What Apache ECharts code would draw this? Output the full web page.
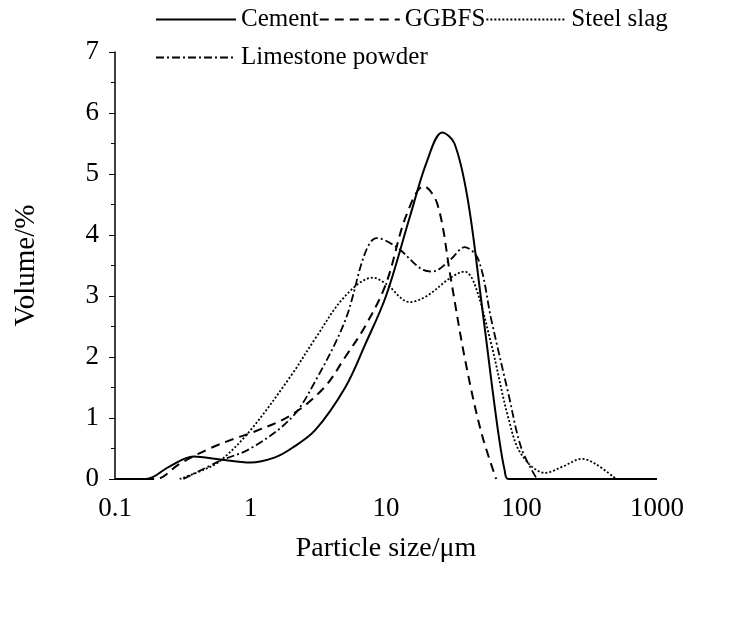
<!DOCTYPE html>
<html><head><meta charset="utf-8">
<script src="https://cdn.jsdelivr.net/npm/echarts@6/dist/echarts.min.js"></script>
<style>html,body{margin:0;background:#fff}#c{width:753px;height:641px}</style>
</head><body><div id="c"></div>
<script>
const cement = [[0.1,0],[0.17,0],[0.25,0.2],[0.38,0.37],[0.6,0.32],[1,0.27],[1.5,0.35],[2,0.5],[3,0.8],[5,1.5],[7,2.2],[10,3.0],[15,4.3],[20,5.2],[26,5.68],[32,5.5],[40,4.6],[50,3.0],[60,1.6],[68,0.7],[75,0.15],[80,0],[1000,0]];
const ggbfs = [[0.1,0],[0.2,0],[0.3,0.25],[0.5,0.5],[0.8,0.68],[1,0.75],[2,1.05],[3.5,1.5],[5,2.0],[7,2.5],[10,3.2],[14,4.3],[19,4.8],[24,4.5],[30,3.3],[38,2.0],[50,0.8],[65,0]];
const steelSlag = [[0.3,0],[0.45,0.15],[0.6,0.3],[1,0.8],[2,1.7],[3,2.3],[5,3.0],[8,3.3],[10,3.2],[15,2.9],[20,3.0],[30,3.3],[38,3.4],[45,3.2],[60,2.2],[80,1.0],[100,0.4],[150,0.1],[200,0.2],[280,0.33],[350,0.25],[500,0]];
const limestone = [[0.32,0],[0.6,0.3],[1,0.5],[2,1.0],[3,1.6],[5,2.6],[7,3.7],[8.5,3.95],[12,3.8],[18,3.45],[22,3.4],[30,3.6],[38,3.8],[48,3.6],[60,2.6],[80,1.4],[100,0.5],[130,0]];
const names = ['Cement','GGBFS','Steel slag','Limestone powder'];

const font = 'Liberation Serif';
const chart = echarts.init(document.getElementById('c'));
const mk = (name, data, type, w) => ({
  name, type: 'line', data, smooth: 0.35, symbol: 'none',
  lineStyle: {color: '#000', width: w, type},
  itemStyle: {color: '#000'}
});
const legText = {fontFamily: font, fontSize: 25, color: '#000'};
chart.setOption({
  animation: false,
  legend: [
    {data: names.slice(0,3), top: 2, left: 150, itemWidth: 80, itemGap: 0,
     itemStyle: {opacity: 0}, textStyle: legText},
    {data: [names[3]], top: 40, left: 150, itemWidth: 80,
     itemStyle: {opacity: 0}, textStyle: legText}
  ],
  grid: {left: 115, right: 96, top: 52, bottom: 162},
  xAxis: {
    type: 'log', min: 0.1, max: 1000, logBase: 10,
    name: 'Particle size/μm', nameLocation: 'middle', nameGap: 56,
    nameTextStyle: {fontFamily: font, fontSize: 28, color: '#000'},
    axisLine: {show: false}, axisTick: {show: false}, splitLine: {show: false},
    axisLabel: {fontFamily: font, fontSize: 27, color: '#000', margin: 16,
      formatter: v => String(+v.toPrecision(3))}
  },
  yAxis: {
    type: 'value', min: 0, max: 7, interval: 1,
    name: 'Volume/%', nameLocation: 'middle', nameGap: 74,
    nameTextStyle: {fontFamily: font, fontSize: 29, color: '#000'},
    axisLine: {show: true, lineStyle: {color: '#000', width: 1.5}},
    axisTick: {show: true, inside: false, length: 6, lineStyle: {color: '#000'}},
    minorTick: {show: true, splitNumber: 2, length: 4, lineStyle: {color: '#000'}},
    splitLine: {show: false},
    axisLabel: {fontFamily: font, fontSize: 27, color: '#000', margin: 16}
  },
  series: [
    mk(names[0], cement, 'solid', 2),
    mk(names[1], ggbfs, [9, 6], 2),
    mk(names[2], steelSlag, [2, 2], 1.8),
    mk(names[3], limestone, [8, 3, 2, 3], 1.8)
  ]
});
</script></body></html>
